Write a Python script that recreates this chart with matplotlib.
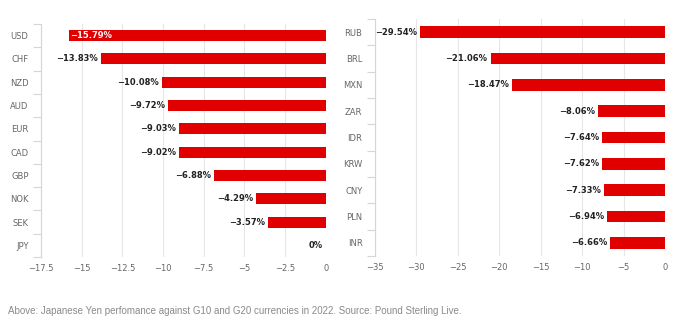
import matplotlib.pyplot as plt
import numpy as np

# G10 (left panel)
g10_ccy = ['USD', 'CHF', 'NZD', 'AUD', 'EUR', 'CAD', 'GBP', 'NOK', 'SEK', 'JPY']
g10_chg = [-15.79, -13.83, -10.08, -9.72, -9.03, -9.02, -6.88, -4.29, -3.57, 0.0]
g10_ticks = [-17.5, -15, -12.5, -10, -7.5, -5, -2.5, 0]

# G20 (right panel)
g20_ccy = ['RUB', 'BRL', 'MXN', 'ZAR', 'IDR', 'KRW', 'CNY', 'PLN', 'INR']
g20_chg = [-29.54, -21.06, -18.47, -8.06, -7.64, -7.62, -7.33, -6.94, -6.66]
g20_ticks = [-35, -30, -25, -20, -15, -10, -5, 0]

caption = ('Above: Japanese Yen perfomance against G10 and G20 currencies in 2022. '
           'Source: Pound Sterling Live.')

W, H = 689, 322
red = '#e00000'
grid_c = '#e6e6e6'
tick_c = '#666666'
axis_c = '#d6d6d6'

fig = plt.figure(figsize=(W / 100, H / 100), dpi=100)


def px_axes(x0, x1, y0, y1):
    return fig.add_axes([x0 / W, 1 - y1 / H, (x1 - x0) / W, (y1 - y0) / H])


def fmt_tick(v):
    s = f'{v:g}'
    return s.replace('-', '\u2212')


def draw_panel(ax, cats, vals, ticks, bar_h, inside=()):
    n = len(cats)
    y = np.arange(n)
    ax.barh(y, vals, height=bar_h, color=red, zorder=3)
    ax.set_xlim(ticks[0], 0)
    ax.set_ylim(n - 0.5, -0.5)
    ax.set_xticks(ticks)
    ax.set_xticklabels([fmt_tick(t) for t in ticks])
    ax.set_yticks(y)
    ax.set_yticklabels(cats)
    # category boundary ticks
    ax.set_yticks(np.arange(n + 1) - 0.5, minor=True)
    ax.tick_params(axis='y', which='major', length=0, pad=9, labelsize=6, labelcolor=tick_c)
    ax.tick_params(axis='y', which='minor', length=6, color=axis_c, width=0.8)
    ax.tick_params(axis='x', length=0, pad=5, labelsize=6, labelcolor=tick_c)
    ax.grid(axis='x', color=grid_c, linewidth=0.8, zorder=0)
    for side in ['top', 'right', 'bottom']:
        ax.spines[side].set_visible(False)
    ax.spines['left'].set_color(axis_c)
    ax.spines['left'].set_linewidth(0.8)
    span = -ticks[0]
    for i, v in enumerate(vals):
        lab = '0%' if v == 0 else f'{v:.2f}%'.replace('-', '\u2212')
        if cats[i] in inside:
            ax.text(v + span * 0.004, i, lab, ha='left', va='center', fontsize=6,
                    color='white', fontweight='bold', zorder=4)
        else:
            ax.text(v - span * 0.01, i, lab, ha='right', va='center', fontsize=6,
                    color='#222222', fontweight='bold', zorder=4)


ax1 = px_axes(41, 325.7, 24, 257)
draw_panel(ax1, g10_ccy, g10_chg, g10_ticks, 0.47, inside=('USD',))

ax2 = px_axes(375, 665, 19, 256)
draw_panel(ax2, g20_ccy, g20_chg, g20_ticks, 0.45)

fig.text(8 / W, 1 - 311 / H, caption, ha='left', va='center', fontsize=7,
         color='#8a8a8a', family='Liberation Sans')

fig.savefig('out.png', dpi=100)
